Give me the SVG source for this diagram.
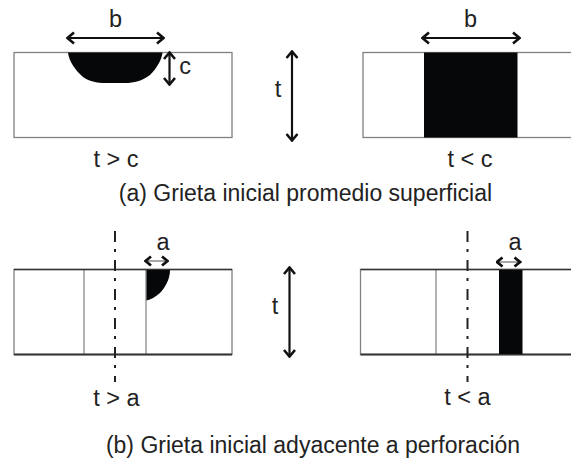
<svg xmlns="http://www.w3.org/2000/svg" width="571" height="458" viewBox="0 0 571 458">
<defs>
<marker id="ah" viewBox="0 0 10 14" refX="9" refY="7" markerWidth="10" markerHeight="14" markerUnits="userSpaceOnUse" orient="auto-start-reverse"><path d="M2 1.500L8.500 7L2 12.500" fill="none" stroke="#111" stroke-width="2.600"/></marker>
<marker id="as" viewBox="0 0 9 12" refX="8.500" refY="6" markerWidth="9" markerHeight="12" markerUnits="userSpaceOnUse" orient="auto-start-reverse"><path d="M2 1.500L7.500 6L2 10.500" fill="none" stroke="#111" stroke-width="2.800"/></marker>
</defs>
<style>
text{font-family:"Liberation Sans",Arial,sans-serif;fill:#222;text-anchor:middle}
.l{font-size:23.500px}.cap{font-size:23px}
.box{fill:#fff;stroke:#808080;stroke-width:1.300}
.k{fill:#050708}
.div{stroke:#8a8a8a;stroke-width:1.300;fill:none}
.edge{stroke:#333;stroke-width:1.500;fill:none}
.dim{stroke:#111;stroke-width:2.200;fill:none;marker-start:url(#ah);marker-end:url(#ah)}
.thin{stroke:#777;stroke-width:1.300;fill:none;marker-start:url(#as);marker-end:url(#as)}
.axis{stroke:#222;stroke-width:2;fill:none;stroke-dasharray:11 7 3 8}
</style>
<rect width="571" height="458" fill="#fff"/>
<g id="plate-top-left">
<rect class="box" x="14" y="52.500" width="218" height="85"/>
<path class="k" d="M68 52.500H162.500C162 59 157 68 150 75C142 81 134 83 125 83H106C96 83 89 81 83 77C76 71 69 62 68 52.500Z"/>
<text class="l" x="115.500" y="27">b</text>
<text class="l" x="185" y="74">c</text>
<text class="l" x="116" y="167">t &gt; c</text>
</g>
<g id="plate-top-right">
<rect class="box" x="363" y="52.500" width="212" height="85"/>
<rect class="k" x="424" y="52.500" width="93.500" height="85"/>
<text class="l" x="470.500" y="27">b</text>
<text class="l" x="470" y="167">t &lt; c</text>
</g>
<g id="thickness-top"><text class="l" x="278" y="97">t</text></g>
<g id="caption-a"><text class="cap" x="305.500" y="201">(a) Grieta inicial promedio superficial</text></g>
<g id="plate-bottom-left">
<rect class="box" x="14" y="269.500" width="218" height="85"/>
<path class="div" d="M84 269.500V354.500M146 269.500V354.500"/>
<path class="edge" d="M14 269.500H232"/>
<path d="M14 354.500H232" stroke="#333" stroke-width="2"/>
<path class="k" d="M146.500 270H170C170 276 168 284 160 293C155 297 151 299.500 146.500 300.500Z"/>
<text class="l" x="163" y="250">a</text>
<text class="l" x="116.500" y="406">t &gt; a</text>
</g>
<g id="plate-bottom-right">
<rect class="box" x="360.500" y="269.500" width="214.500" height="85"/>
<path class="div" d="M436 269.500V354.500"/>
<path class="edge" d="M360.500 269.500H575"/>
<path d="M360.500 354.500H575" stroke="#333" stroke-width="2"/>
<rect class="k" x="499" y="270" width="23.500" height="84"/>
<text class="l" x="515" y="250">a</text>
<text class="l" x="467.500" y="405">t &lt; a</text>
</g>
<g id="thickness-bottom"><text class="l" x="275" y="314">t</text></g>
<g id="caption-b"><text class="cap" x="313" y="453">(b) Grieta inicial adyacente a perforación</text></g>
<g id="connectors">
<path class="dim" d="M67 38H164"/>
<path class="dim" d="M169.500 52V85"/>
<path class="dim" d="M292 51V141"/>
<path class="dim" d="M422 38H520"/>
<path class="thin" d="M144.500 261H168.500"/>
<path class="thin" d="M496 262H521"/>
<path class="dim" d="M289.500 267V357"/>
<path class="axis" d="M115 231V382"/>
<path class="axis" d="M467.500 231V382"/>
</g>
</svg>
